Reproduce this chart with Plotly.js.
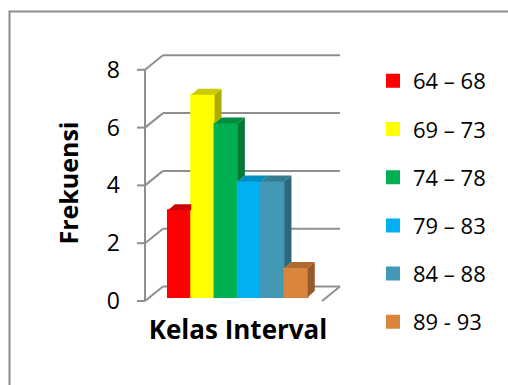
<!DOCTYPE html>
<html>
<head>
<meta charset="utf-8">
<script src="https://cdn.plot.ly/plotly-3.0.1.min.js"></script>
<style>html,body{margin:0;padding:0;background:#fff;}#chart{width:508px;height:385px;}</style>
</head>
<body>
<div id="chart"></div>
<script>
// ---- data ----
const categories = ['64 – 68', '69 – 73', '74 – 78', '79 – 83', '84 – 88', '89 - 93'];
const frequencies = [3, 7, 6, 4, 4, 1];
const frontColors = ['#FF0000', '#FFFF00', '#00B050', '#00B0F0', '#4298B5', '#DB843D'];
const yTicks = [0, 2, 4, 6, 8];
const xTitle = 'Kelas Interval';
const yTitle = 'Frekuensi';

// ---- geometry (pixels) ----
const W = 508, H = 385;
const L = 132, R = 344, T = 48, B = 318;
const pxX = 23.3, pxY = 28.9;          // pixels per data unit
const bar0Center = 179.6;               // pixel centre of first bar
const frontZero = 301, barZero = 297;   // pixel rows of value 0
const frontX = 145, backRight = 340;    // front axis / right end of back wall
const depthX = 18, depthY = 14.5;       // wall depth offset (px)
const barDX = 7, barDY = 6;             // bar depth offset (px)

const xr = [(L - bar0Center) / pxX, (R - bar0Center) / pxX];
const yr = [(frontZero - B) / pxY, (frontZero - T) / pxY];
const y2r = [(barZero - B) / pxY, (barZero - T) / pxY];
const toX = p => (p - bar0Center) / pxX;

function shade(hex, f) {
  const n = parseInt(hex.slice(1), 16);
  const r = Math.round(((n >> 16) & 255) * f), g = Math.round(((n >> 8) & 255) * f), b = Math.round((n & 255) * f);
  return 'rgb(' + r + ',' + g + ',' + b + ')';
}

const traces = [];
// front faces (bars)
categories.forEach((c, i) => {
  traces.push({
    type: 'bar', x: [i], y: [frequencies[i]], width: 1, name: c,
    legendgroup: 'g' + i, yaxis: 'y2',
    marker: {color: frontColors[i], line: {width: 2, color: frontColors[i]}},
    hoverinfo: 'name+y'
  });
});
// 3D tops and sides
const ddx = barDX / pxX, ddy = barDY / pxY;
categories.forEach((c, i) => {
  const l = i - 0.5, r = i + 0.5, v = frequencies[i];
  const next = i < frequencies.length - 1 ? frequencies[i + 1] : null;
  let sideBottom = null;
  if (next === null) sideBottom = 0; else if (next < v) sideBottom = next;
  if (sideBottom !== null) {
    traces.push({
      type: 'scatter', mode: 'lines', fill: 'toself', yaxis: 'y2', showlegend: false, hoverinfo: 'skip',
      x: [r, r, r + ddx, r + ddx, r], y: [sideBottom, v, v + ddy, sideBottom + ddy, sideBottom],
      line: {width: 0}, fillcolor: shade(frontColors[i], 0.68)
    });
  }
  let tx, ty;
  if (next !== null && next > v) {
    tx = [l, r, r, l + ddx, l]; ty = [v, v, v + ddy, v + ddy, v];
  } else {
    tx = [l, r, r + ddx, l + ddx, l]; ty = [v, v, v + ddy, v + ddy, v];
  }
  traces.push({
    type: 'scatter', mode: 'lines', fill: 'toself', yaxis: 'y2', showlegend: false, hoverinfo: 'skip',
    x: tx, y: ty, line: {width: 0}, fillcolor: shade(frontColors[i], 0.8)
  });
});

// frame shapes
const gridCol = '#8f8f8f';
const xFront = toX(frontX), xBack = toX(frontX + depthX), xRight = toX(backRight);
const dY = depthY / pxY;
const shapes = [];
shapes.push({type: 'line', layer: 'below', xref: 'x', yref: 'y', x0: xFront, x1: xFront,
  y0: yTicks[0], y1: yTicks[yTicks.length - 1], line: {color: gridCol, width: 2}});
yTicks.forEach(v => {
  shapes.push({type: 'line', layer: 'below', xref: 'x', yref: 'y', x0: toX(frontX - 8), x1: xFront, y0: v, y1: v, line: {color: gridCol, width: 2}});
  shapes.push({type: 'line', layer: 'below', xref: 'x', yref: 'y', x0: xFront, x1: xBack, y0: v, y1: v + dY, line: {color: gridCol, width: 2}});
  shapes.push({type: 'line', layer: 'below', xref: 'x', yref: 'y', x0: xBack, x1: xRight, y0: v + dY, y1: v + dY, line: {color: gridCol, width: 2}});
});
shapes.push({type: 'line', layer: 'below', xref: 'x', yref: 'y', x0: toX(backRight - depthX), x1: xRight,
  y0: 0, y1: dY, line: {color: gridCol, width: 2}});
// outer chart border
const px2paperX = p => (p - L) / (R - L);
const px2paperY = p => (B - p) / (B - T);
shapes.push({type: 'rect', layer: 'below', xref: 'paper', yref: 'paper',
  x0: px2paperX(9.5), x1: px2paperX(530), y0: px2paperY(11.5), y1: px2paperY(420),
  line: {color: '#8c8c8c', width: 2}, fillcolor: 'rgba(0,0,0,0)'});

const FONT = '"Open Sans", sans-serif';
const layout = {
  width: W, height: H,
  margin: {l: L, r: W - R, t: T, b: H - B, pad: 0},
  paper_bgcolor: '#fff', plot_bgcolor: 'rgba(0,0,0,0)',
  font: {family: FONT, size: 22, color: '#000'},
  barmode: 'overlay', bargap: 0,
  showlegend: true,
  legend: {x: px2paperX(373), xanchor: 'left', y: px2paperY(60), yanchor: 'top',
    traceorder: 'grouped', tracegroupgap: 16.6, itemwidth: 30, maxheight: 1,
    font: {family: FONT, size: 22, color: '#000'}, bgcolor: 'rgba(0,0,0,0)'},
  xaxis: {range: xr, showgrid: false, zeroline: false, showline: false, showticklabels: false, ticks: '',
    fixedrange: true,
    title: {text: xTitle, standoff: 2, font: {family: FONT, size: 26, color: '#000', weight: 'bold'}}},
  yaxis: {range: yr, tickvals: yTicks, ticktext: yTicks.map(String), showgrid: false, zeroline: false, showline: false,
    ticks: '', ticklabelstandoff: 11, tickfont: {family: FONT, size: 23, color: '#000'}, fixedrange: true,
    title: {text: yTitle, standoff: 21, font: {family: FONT, size: 25, color: '#000', weight: 'bold'}}},
  yaxis2: {range: y2r, overlaying: 'y', visible: false, fixedrange: true},
  shapes: shapes
};
Plotly.newPlot('chart', traces, layout, {staticPlot: true, displayModeBar: false});
</script>
</body>
</html>
